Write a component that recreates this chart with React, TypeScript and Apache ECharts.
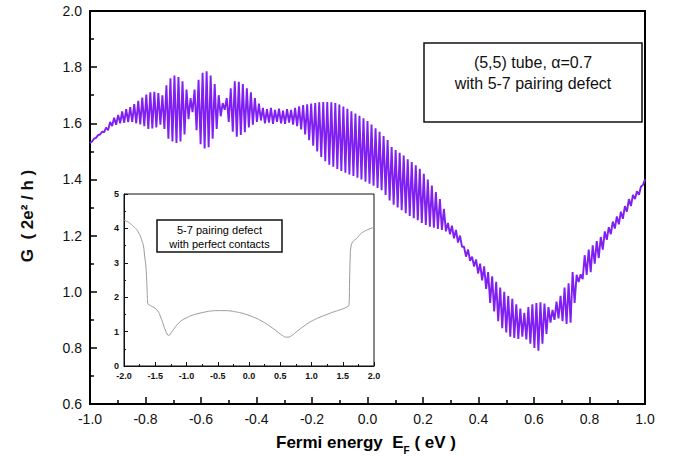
import React, { useEffect, useRef } from 'react';
import * as echarts from 'echarts';

const FONT = '"Liberation Sans", Arial, Helvetica, sans-serif';

const mainEStart = -1.0;
const mainEEnd = 1.0;
const mainG = [
  1.530, 1.535, 1.545, 1.548, 1.558, 1.560, 1.570, 1.568, 1.585, 1.575,
  1.605, 1.590, 1.620, 1.595, 1.630, 1.600, 1.642, 1.602, 1.650, 1.604,
  1.658, 1.605, 1.668, 1.600, 1.680, 1.596, 1.692, 1.590, 1.702, 1.580,
  1.710, 1.582, 1.712, 1.585, 1.708, 1.595, 1.700, 1.580, 1.735, 1.545,
  1.760, 1.535, 1.770, 1.530, 1.765, 1.535, 1.750, 1.560, 1.720, 1.615,
  1.690, 1.640, 1.720, 1.575, 1.755, 1.525, 1.780, 1.510, 1.785, 1.515,
  1.770, 1.545, 1.740, 1.580, 1.700, 1.625, 1.672, 1.648, 1.690, 1.605,
  1.725, 1.570, 1.750, 1.552, 1.748, 1.558, 1.740, 1.568, 1.725, 1.585,
  1.710, 1.595, 1.690, 1.605, 1.670, 1.610, 1.655, 1.600, 1.650, 1.602,
  1.655, 1.598, 1.648, 1.605, 1.652, 1.600, 1.645, 1.598, 1.650, 1.602,
  1.648, 1.595, 1.655, 1.590, 1.660, 1.578, 1.665, 1.560, 1.668, 1.540,
  1.670, 1.520, 1.672, 1.500, 1.675, 1.480, 1.676, 1.465, 1.676, 1.452,
  1.675, 1.445, 1.672, 1.437, 1.667, 1.430, 1.660, 1.424, 1.652, 1.418,
  1.643, 1.412, 1.635, 1.406, 1.627, 1.400, 1.618, 1.392, 1.608, 1.385,
  1.596, 1.378, 1.582, 1.370, 1.570, 1.362, 1.555, 1.345, 1.540, 1.325,
  1.515, 1.310, 1.505, 1.300, 1.495, 1.290, 1.485, 1.280, 1.472, 1.270,
  1.462, 1.262, 1.450, 1.255, 1.438, 1.245, 1.420, 1.238, 1.400, 1.232,
  1.378, 1.228, 1.355, 1.224, 1.330, 1.220, 1.295, 1.215, 1.245, 1.205,
  1.235, 1.190, 1.220, 1.175, 1.200, 1.160, 1.160, 1.125, 1.150, 1.110,
  1.125, 1.090, 1.115, 1.065, 1.100, 1.040, 1.090, 1.010, 1.070, 0.960,
  1.055, 0.930, 1.035, 0.895, 1.015, 0.870, 1.000, 0.855, 0.985, 0.840,
  0.975, 0.835, 0.955, 0.832, 0.940, 0.840, 0.925, 0.830, 0.945, 0.815,
  0.955, 0.800, 0.960, 0.790, 0.962, 0.815, 0.958, 0.850, 0.945, 0.890,
  0.935, 0.900, 0.965, 0.905, 0.985, 0.895, 1.015, 0.885, 1.030, 0.890,
  1.070, 0.960, 1.060, 1.035, 1.062, 1.045, 1.130, 1.060, 1.150, 1.070,
  1.165, 1.100, 1.180, 1.120, 1.195, 1.150, 1.215, 1.185, 1.230, 1.205,
  1.250, 1.225, 1.268, 1.240, 1.285, 1.260, 1.305, 1.285, 1.330, 1.305,
  1.345, 1.330, 1.358, 1.345, 1.375, 1.380, 1.400,
];

// Inset: 5-7 pairing defect with perfect contacts
const insetE = [
  -2.0, -1.95, -1.9, -1.85, -1.8, -1.75, -1.72, -1.69, -1.67, -1.65,
  -1.64, -1.63, -1.62, -1.58, -1.52, -1.46, -1.42, -1.38, -1.34, -1.31,
  -1.29, -1.27, -1.24, -1.2, -1.15, -1.08, -1.0, -0.9, -0.8, -0.7,
  -0.6, -0.5, -0.4, -0.3, -0.2, -0.1, 0.0, 0.1, 0.2, 0.3,
  0.4, 0.5, 0.55, 0.58, 0.62, 0.68, 0.75, 0.85, 0.95, 1.05,
  1.15, 1.25, 1.35, 1.45, 1.55, 1.6, 1.61, 1.62, 1.63, 1.65,
  1.68, 1.72, 1.78, 1.85, 1.92, 2.0,
];
const insetG = [
  4.24, 4.2, 4.14, 4.06, 3.97, 3.82, 3.68, 3.5, 3.2, 2.9,
  2.6, 2.2, 1.82, 1.76, 1.7, 1.6, 1.45, 1.26, 1.05, 0.93,
  0.89, 0.9, 0.98, 1.08, 1.2, 1.32, 1.4, 1.48, 1.53, 1.57,
  1.6, 1.61, 1.61, 1.6, 1.57, 1.53, 1.47, 1.4, 1.31, 1.2,
  1.07, 0.93, 0.87, 0.84, 0.84, 0.88, 0.98, 1.12, 1.25, 1.35,
  1.43, 1.5, 1.57, 1.63, 1.7, 1.78, 2.5, 3.2, 3.45, 3.58,
  3.65, 3.7, 3.83, 3.92, 3.98, 4.03,
];

const mainLegendLines = ['(5,5) tube, \u03b1=0.7', 'with 5-7 pairing defect'];
const insetLegendLines = ['5-7 pairing defect', 'with perfect contacts'];

function buildOption() {
  const n = mainG.length;
  const mainData = mainG.map((g, i) => [mainEStart + ((mainEEnd - mainEStart) * i) / (n - 1), g]);
  const insetData = insetE.map((e, i) => [e, insetG[i]]);
  const fmt1 = (v: number) => v.toFixed(1);

  return {
    animation: false,
    backgroundColor: '#fff',
    grid: [
      { left: 90, top: 11, width: 555, height: 393, show: true, borderColor: '#000', borderWidth: 2, backgroundColor: 'transparent' },
      { left: 124, top: 194, width: 250, height: 172, show: true, borderColor: '#111', borderWidth: 1, backgroundColor: '#fff', z: 3 },
    ],
    xAxis: [
      {
        type: 'value', gridIndex: 0, min: -1, max: 1, interval: 0.2,
        axisLine: { show: true, onZero: false, lineStyle: { color: '#000', width: 2 } },
        axisTick: { show: true, inside: true, length: 7, lineStyle: { color: '#000', width: 1.5 } },
        minorTick: { show: true, splitNumber: 2, length: 4, lineStyle: { color: '#000', width: 1.5 } },
        splitLine: { show: false },
        axisLabel: { margin: 8, fontSize: 14, color: '#111', fontFamily: FONT, formatter: fmt1 },
      },
      {
        type: 'value', gridIndex: 1, min: -2, max: 2, interval: 0.5,
        axisLine: { show: true, onZero: false, lineStyle: { color: '#111', width: 1 } },
        axisTick: { show: true, inside: true, length: 4, lineStyle: { color: '#111', width: 1 } },
        minorTick: { show: true, splitNumber: 2, length: 2, lineStyle: { color: '#111', width: 1 } },
        splitLine: { show: false },
        axisLabel: { margin: 5, fontSize: 9, fontWeight: 'bold', color: '#111', fontFamily: FONT, formatter: fmt1 },
        z: 4,
      },
    ],
    yAxis: [
      {
        type: 'value', gridIndex: 0, min: 0.6, max: 2.0, interval: 0.2,
        axisLine: { show: true, onZero: false, lineStyle: { color: '#000', width: 2 } },
        axisTick: { show: true, inside: true, length: 7, lineStyle: { color: '#000', width: 1.5 } },
        minorTick: { show: true, splitNumber: 2, length: 4, lineStyle: { color: '#000', width: 1.5 } },
        splitLine: { show: false },
        axisLabel: { margin: 8, fontSize: 14, color: '#111', fontFamily: FONT, formatter: fmt1 },
      },
      {
        type: 'value', gridIndex: 1, min: 0, max: 5, interval: 1,
        axisLine: { show: true, onZero: false, lineStyle: { color: '#111', width: 1 } },
        axisTick: { show: true, inside: true, length: 4, lineStyle: { color: '#111', width: 1 } },
        minorTick: { show: true, splitNumber: 2, length: 2, lineStyle: { color: '#111', width: 1 } },
        splitLine: { show: false },
        axisLabel: { margin: 5, fontSize: 9, fontWeight: 'bold', color: '#111', fontFamily: FONT },
        z: 4,
      },
    ],
    series: [
      {
        type: 'line', xAxisIndex: 0, yAxisIndex: 0, data: mainData,
        showSymbol: false, symbol: 'none', smooth: false,
        lineStyle: { color: '#7f1ff2', width: 1.9 },
        z: 2,
      },
      {
        type: 'line', xAxisIndex: 1, yAxisIndex: 1, data: insetData,
        showSymbol: false, symbol: 'none', smooth: true,
        lineStyle: { color: '#999', width: 1 },
        z: 5,
      },
    ],
    graphic: [
      {
        type: 'rect', z: 10,
        shape: { x: 424, y: 43, width: 218, height: 79 },
        style: { fill: '#fff', stroke: '#111', lineWidth: 1.5 },
      },
      {
        type: 'text', z: 11, x: 533, y: 62,
        style: { text: mainLegendLines[0], font: `16px ${FONT}`, fill: '#111', align: 'center', verticalAlign: 'middle' },
      },
      {
        type: 'text', z: 11, x: 533, y: 83,
        style: { text: mainLegendLines[1], font: `16px ${FONT}`, fill: '#111', align: 'center', verticalAlign: 'middle' },
      },
      {
        type: 'rect', z: 10,
        shape: { x: 157, y: 220, width: 125, height: 32 },
        style: { fill: '#fff', stroke: '#111', lineWidth: 1.5 },
      },
      {
        type: 'text', z: 11, x: 219.5, y: 230,
        style: { text: insetLegendLines[0], font: `11px ${FONT}`, fill: '#000', align: 'center', verticalAlign: 'middle' },
      },
      {
        type: 'text', z: 11, x: 219.5, y: 244,
        style: { text: insetLegendLines[1], font: `11px ${FONT}`, fill: '#000', align: 'center', verticalAlign: 'middle' },
      },
      {
        type: 'text', z: 11, x: 27, y: 216, rotation: Math.PI / 2,
        style: { text: 'G  ( 2e\u00b2 / h )', font: `bold 17px ${FONT}`, fill: '#111', align: 'center', verticalAlign: 'middle' },
      },
      {
        type: 'text', z: 11, x: 366, y: 442,
        style: {
          text: '{m|Fermi energy  E}{s|F}{m| ( eV )}',
          align: 'center', verticalAlign: 'middle',
          rich: {
            m: { fontSize: 17, fontWeight: 'bold', fontFamily: FONT, color: '#111', lineHeight: 26 },
            s: { fontSize: 10, fontWeight: 'bold', fontFamily: FONT, color: '#111', lineHeight: 12, verticalAlign: 'bottom' },
          },
        },
      },
    ],
  };
}

export default function App() {
  const ref = useRef<HTMLDivElement>(null);
  useEffect(() => {
    if (!ref.current) return;
    const chart = echarts.init(ref.current, null, { renderer: 'svg' });
    chart.setOption(buildOption() as any);
    return () => chart.dispose();
  }, []);
  return (
    <div
      ref={ref}
      style={{ position: 'fixed', left: 0, top: 0, width: 673, height: 464, background: '#fff' }}
    />
  );
}
